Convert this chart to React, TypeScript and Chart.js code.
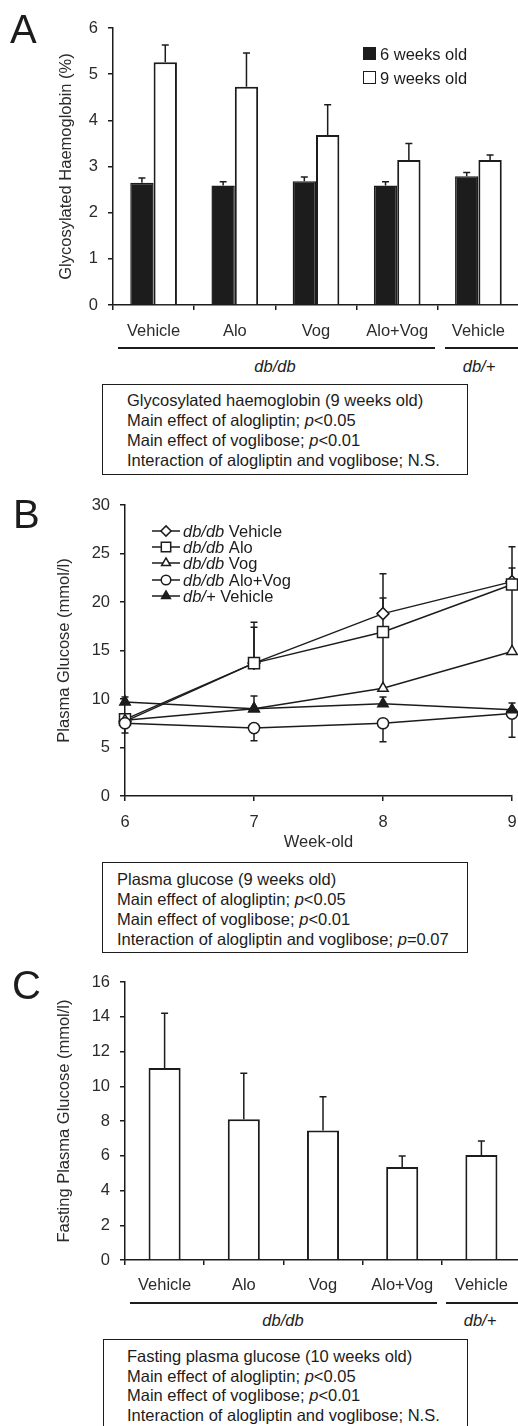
import React, { useEffect, useRef } from 'react';
import { Chart, registerables } from 'chart.js';

Chart.register(...registerables);

const FONT = '"Liberation Sans", Arial, Helvetica, sans-serif';
const INK = '#1c1c1c';
const GREY = '#2b2b2b';
const FS = 16.5;

Chart.defaults.font.family = FONT;
Chart.defaults.font.size = FS;
Chart.defaults.color = GREY;

// ---------------- Panel A : glycosylated haemoglobin ----------------
const treatmentsA = ['Vehicle', 'Alo', 'Vog', 'Alo+Vog', 'Vehicle'];
const hbA1c6Weeks = [2.65, 2.59, 2.68, 2.59, 2.79];
const hbA1c6WeeksErrTop = [2.75, 2.67, 2.77, 2.67, 2.87];
const hbA1c9Weeks = [5.26, 4.73, 3.68, 3.14, 3.14];
const hbA1c9WeeksErrTop = [5.63, 5.46, 4.34, 3.5, 3.25];
const yAxisA = { min: 0, max: 6, step: 1 };

// ---------------- Panel B : plasma glucose time course ----------------
const weeks = ['6', '7', '8', '9'];
const seriesStrainB = ['db/db', 'db/db', 'db/db', 'db/db', 'db/+'];
const seriesTreatB = ['Vehicle', 'Alo', 'Vog', 'Alo+Vog', 'Vehicle'];
const glucoseDbVehicle = [7.7, 13.7, 18.8, 22.1];
const glucoseDbAlo = [7.9, 13.7, 16.9, 21.8];
const glucoseDbVog = [7.8, 9.0, 11.1, 14.9];
const glucoseDbAloVog = [7.5, 7.0, 7.5, 8.5];
const glucoseDbPlusVehicle = [9.7, 9.0, 9.5, 8.9];
const errUpDbVehicle = [null, 17.9, 22.9, 25.7];
const errUpDbAlo = [null, 17.4, 20.4, 23.5];
const errUpDbVog = [null, null, 16.6, 21.4];
const errDownDbAloVog = [6.5, 5.7, 5.6, 6.05];
const errUpDbPlusVehicle = [10.2, 10.3, 10.2, 9.6];
const yAxisB = { min: 0, max: 30, step: 5 };

// ---------------- Panel C : fasting plasma glucose ----------------
const treatmentsC = ['Vehicle', 'Alo', 'Vog', 'Alo+Vog', 'Vehicle'];
const fastingGlucose = [11.05, 8.1, 7.45, 5.35, 6.05];
const fastingGlucoseErrTop = [14.2, 10.75, 9.4, 5.98, 6.85];
const yAxisC = { min: 0, max: 16, step: 2 };

// ---------------- helpers ----------------
function drawErrorBars(chart: any) {
  const ctx = chart.ctx;
  const ys = chart.scales.y;
  ctx.save();
  ctx.strokeStyle = INK;
  ctx.lineWidth = 1.5;
  chart.data.datasets.forEach((ds: any, i: number) => {
    const meta = chart.getDatasetMeta(i);
    const cap = ds.errCap || 3.5;
    meta.data.forEach((el: any, j: number) => {
      const ends = [ds.errUp ? ds.errUp[j] : null, ds.errDown ? ds.errDown[j] : null];
      ends.forEach((v) => {
        if (v === null || v === undefined) return;
        const yy = ys.getPixelForValue(v);
        ctx.beginPath();
        ctx.moveTo(el.x, el.y);
        ctx.lineTo(el.x, yy);
        ctx.moveTo(el.x - cap, yy);
        ctx.lineTo(el.x + cap, yy);
        ctx.stroke();
      });
    });
  });
  ctx.restore();
}

const errorBarsAfter = {
  id: 'errorBarsAfter',
  afterDatasetsDraw(chart: any) {
    drawErrorBars(chart);
  },
};
const errorBarsBefore = {
  id: 'errorBarsBefore',
  beforeDatasetsDraw(chart: any) {
    drawErrorBars(chart);
  },
};

function drawMarker(ctx: any, style: string, x: number, y: number, r: number, fill: string) {
  ctx.beginPath();
  if (style === 'rectRot') {
    ctx.moveTo(x, y - r);
    ctx.lineTo(x + r, y);
    ctx.lineTo(x, y + r);
    ctx.lineTo(x - r, y);
    ctx.closePath();
  } else if (style === 'rect') {
    const s = r * Math.SQRT1_2;
    ctx.rect(x - s, y - s, 2 * s, 2 * s);
  } else if (style === 'triangle') {
    ctx.moveTo(x, y - r);
    ctx.lineTo(x + r * 0.866, y + r * 0.5);
    ctx.lineTo(x - r * 0.866, y + r * 0.5);
    ctx.closePath();
  } else {
    ctx.arc(x, y, r, 0, Math.PI * 2);
  }
  ctx.fillStyle = fill;
  ctx.fill();
  ctx.stroke();
}

const legendB = {
  id: 'legendB',
  afterDraw(chart: any) {
    const ctx = chart.ctx;
    const rowY = [51, 67, 83, 100, 116];
    ctx.save();
    chart.data.datasets.forEach((ds: any, i: number) => {
      const y = rowY[i];
      ctx.strokeStyle = INK;
      ctx.lineWidth = 1.5;
      ctx.beginPath();
      ctx.moveTo(152, y);
      ctx.lineTo(180, y);
      ctx.stroke();
      drawMarker(ctx, ds.pointStyle, 166, y, ds.pointRadius * 0.85, ds.pointBackgroundColor);
      ctx.fillStyle = INK;
      ctx.textBaseline = 'alphabetic';
      ctx.textAlign = 'left';
      ctx.font = `italic ${FS}px ${FONT}`;
      ctx.fillText(ds.strain, 183, y + 5.5);
      const w = ctx.measureText(ds.strain).width;
      ctx.font = `${FS}px ${FONT}`;
      ctx.fillText(' ' + ds.treat, 183 + w, y + 5.5);
    });
    ctx.restore();
  },
};

function yScale(range: any, title: string, width: number, titlePad: number) {
  return {
    min: range.min,
    max: range.max,
    ticks: { stepSize: range.step, color: GREY, padding: 10, font: { size: FS, family: FONT } },
    grid: { drawOnChartArea: false, tickLength: 5, color: INK, lineWidth: 1.5 },
    border: { color: INK, width: 1.5 },
    title: { display: true, text: title, color: GREY, font: { size: FS, family: FONT }, padding: { top: titlePad, bottom: 0 } },
    afterFit: (s: any) => {
      s.width = width;
    },
  };
}

function xScale(height: number, pad: number, offsetGrid: boolean, title?: string) {
  return {
    ticks: { color: GREY, padding: pad, maxRotation: 0, autoSkip: false, font: { size: FS, family: FONT } },
    grid: { drawOnChartArea: false, tickLength: 5, color: INK, lineWidth: 1.5, offset: offsetGrid },
    border: { color: INK, width: 1.5 },
    title: title
      ? { display: true, text: title, color: GREY, font: { size: FS, family: FONT }, padding: { top: 0, bottom: 0 } }
      : { display: false },
    afterFit: (s: any) => {
      s.height = height;
    },
  };
}

function buildA(): any {
  return {
    type: 'bar',
    data: {
      labels: treatmentsA,
      datasets: [
        { label: '6 weeks old', data: hbA1c6Weeks, errUp: hbA1c6WeeksErrTop, backgroundColor: INK, borderColor: INK, borderWidth: 1.5 },
        { label: '9 weeks old', data: hbA1c9Weeks, errUp: hbA1c9WeeksErrTop, backgroundColor: '#ffffff', borderColor: INK, borderWidth: 2 },
      ],
    },
    options: {
      responsive: false,
      animation: false,
      devicePixelRatio: 1,
      layout: { padding: { top: 28, right: 11, left: 0, bottom: 0 } },
      datasets: { bar: { categoryPercentage: 0.575, barPercentage: 1 } },
      plugins: { legend: { display: false }, tooltip: { enabled: false } },
      scales: {
        x: xScale(40, 12, true),
        y: yScale(yAxisA, 'Glycosylated Haemoglobin (%)', 113, 57),
      },
    },
    plugins: [errorBarsAfter],
  };
}

function lineSet(i: number, data: number[], style: string, r: number, fill: string, order: number, errUp: any, errDown: any) {
  return {
    label: seriesStrainB[i] + ' ' + seriesTreatB[i],
    strain: seriesStrainB[i],
    treat: seriesTreatB[i],
    data,
    errUp,
    errDown,
    borderColor: INK,
    borderWidth: 1.5,
    pointStyle: style,
    pointRadius: r,
    pointBackgroundColor: fill,
    pointBorderColor: INK,
    pointBorderWidth: 1.5,
    tension: 0,
    clip: false,
    order,
  };
}

function buildB(): any {
  return {
    type: 'line',
    data: {
      labels: weeks,
      datasets: [
        lineSet(0, glucoseDbVehicle, 'rectRot', 6, '#ffffff', 5, errUpDbVehicle, null),
        lineSet(1, glucoseDbAlo, 'rect', 7.8, '#ffffff', 4, errUpDbAlo, null),
        lineSet(2, glucoseDbVog, 'triangle', 6, '#ffffff', 3, errUpDbVog, null),
        lineSet(3, glucoseDbAloVog, 'circle', 5.6, '#ffffff', 2, null, errDownDbAloVog),
        lineSet(4, glucoseDbPlusVehicle, 'triangle', 6, INK, 1, errUpDbPlusVehicle, null),
      ],
    },
    options: {
      responsive: false,
      animation: false,
      devicePixelRatio: 1,
      layout: { padding: { top: 25, right: 18, left: 0, bottom: 0 } },
      plugins: { legend: { display: false }, tooltip: { enabled: false } },
      scales: {
        x: xScale(56, 12, false, 'Week-old'),
        y: yScale(yAxisB, 'Plasma Glucose (mmol/l)', 125, 55),
      },
    },
    plugins: [errorBarsBefore, legendB],
  };
}

function buildC(): any {
  return {
    type: 'bar',
    data: {
      labels: treatmentsC,
      datasets: [
        { label: 'Fasting plasma glucose', data: fastingGlucose, errUp: fastingGlucoseErrTop, backgroundColor: '#ffffff', borderColor: INK, borderWidth: 2 },
      ],
    },
    options: {
      responsive: false,
      animation: false,
      devicePixelRatio: 1,
      layout: { padding: { top: 32, right: 9, left: 0, bottom: 0 } },
      datasets: { bar: { categoryPercentage: 0.405, barPercentage: 1 } },
      plugins: { legend: { display: false }, tooltip: { enabled: false } },
      scales: {
        x: xScale(40, 11, true),
        y: yScale(yAxisC, 'Fasting Plasma Glucose (mmol/l)', 125, 55),
      },
    },
    plugins: [errorBarsAfter],
  };
}

function ChartBox({ top, width, height, build }: any) {
  const ref = useRef<HTMLCanvasElement>(null);
  useEffect(() => {
    const chart = new Chart(ref.current as HTMLCanvasElement, build());
    return () => chart.destroy();
  }, []);
  return (
    <canvas
      ref={ref}
      width={width}
      height={height}
      style={{ position: 'absolute', left: 0, top, width, height, display: 'block' }}
    />
  );
}

function T({ x, y, size = FS, italic = false, center = false, children }: any) {
  const style: any = {
    position: 'absolute',
    top: y - 0.8465 * size,
    left: x,
    fontSize: size,
    lineHeight: `${size}px`,
    fontStyle: italic ? 'italic' : 'normal',
    whiteSpace: 'nowrap',
    color: INK,
  };
  if (center) style.transform = 'translateX(-50%)';
  return <div style={style}>{children}</div>;
}

function HLine({ x, y, w }: any) {
  return <div style={{ position: 'absolute', left: x, top: y - 0.75, width: w, height: 1.5, background: INK }} />;
}

function Box({ x, y, w, h }: any) {
  return (
    <div
      style={{
        position: 'absolute',
        left: x,
        top: y,
        width: w,
        height: h,
        border: `1.5px solid ${INK}`,
        boxSizing: 'border-box',
      }}
    />
  );
}

const P = () => <i>p</i>;

export default function App() {
  return (
    <div
      style={{
        position: 'absolute',
        left: 0,
        top: 0,
        width: 518,
        height: 1426,
        overflow: 'hidden',
        background: '#ffffff',
        fontFamily: FONT,
        color: INK,
      }}
    >
      {/* Panel A */}
      <ChartBox top={0} width={530} height={345} build={buildA} />
      <T x={10} y={43} size={40}>A</T>
      <div style={{ position: 'absolute', left: 363, top: 46.5, width: 13, height: 13, background: INK }} />
      <div style={{ position: 'absolute', left: 363, top: 70.5, width: 13, height: 13, background: '#fff', border: `1.5px solid ${INK}`, boxSizing: 'border-box' }} />
      <T x={380} y={59.5}>6 weeks old</T>
      <T x={380} y={83.5}>9 weeks old</T>
      <HLine x={118} y={348} w={317} />
      <HLine x={445} y={348} w={80} />
      <T x={275} y={371.5} italic center>db/db</T>
      <T x={479} y={371.5} italic center>db/+</T>
      <Box x={102} y={384} w={366} h={91} />
      <T x={127} y={406}>Glycosylated haemoglobin (9 weeks old)</T>
      <T x={127} y={426}>Main effect of alogliptin; <P />&lt;0.05</T>
      <T x={127} y={446}>Main effect of voglibose; <P />&lt;0.01</T>
      <T x={127} y={466}>Interaction of alogliptin and voglibose; N.S.</T>

      {/* Panel B */}
      <ChartBox top={480} width={530} height={372} build={buildB} />
      <T x={13} y={528} size={40}>B</T>
      <Box x={102} y={862} w={366} h={91} />
      <T x={117} y={884.5}>Plasma glucose (9 weeks old)</T>
      <T x={117} y={904.5}>Main effect of alogliptin; <P />&lt;0.05</T>
      <T x={117} y={924.5}>Main effect of voglibose; <P />&lt;0.01</T>
      <T x={117} y={944.5}>Interaction of alogliptin and voglibose; <P />=0.07</T>

      {/* Panel C */}
      <ChartBox top={950} width={530} height={350} build={buildC} />
      <T x={12} y={999} size={40}>C</T>
      <HLine x={130} y={1303} w={307} />
      <HLine x={446} y={1303} w={80} />
      <T x={283} y={1325.5} italic center>db/db</T>
      <T x={480} y={1325.5} italic center>db/+</T>
      <Box x={103} y={1339} w={365} h={110} />
      <T x={127} y={1361.5}>Fasting plasma glucose (10 weeks old)</T>
      <T x={127} y={1381.5}>Main effect of alogliptin; <P />&lt;0.05</T>
      <T x={127} y={1401}>Main effect of voglibose; <P />&lt;0.01</T>
      <T x={127} y={1420.5}>Interaction of alogliptin and voglibose; N.S.</T>
    </div>
  );
}
